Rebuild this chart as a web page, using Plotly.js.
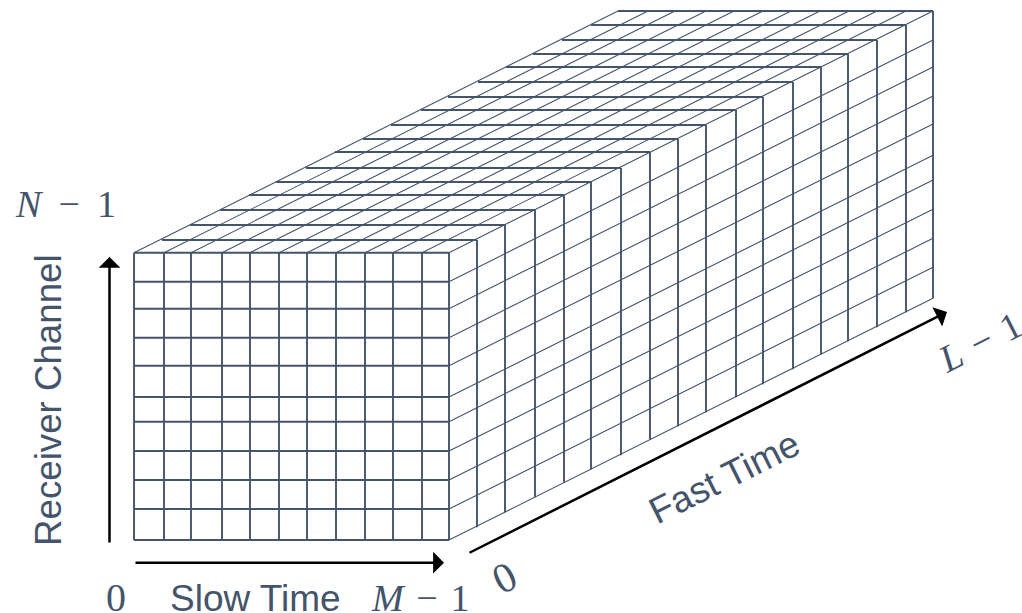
<!DOCTYPE html>
<html>
<head>
<meta charset="utf-8">
<script src="https://cdn.plot.ly/plotly-3.0.1.min.js"></script>
<style>html,body{margin:0;padding:0;background:#fff}#chart{width:1022px;height:613px}</style>
</head>
<body>
<div id="chart"></div>
<script>
// Front face grid (slow time columns, receiver-channel rows)
var slowTimeX = [134,164,191,222,250,279,307,336,365,393,422,449];
var channelY = [252.7,281.7,308.7,337.7,365.7,397,421.7,451,480,509,540];
// Fast-time layers: top-right corner of every layer along the depth direction
var fastTimeX = [449,477,505,535,564,591,621,650,678,706,736,763,793,821,848,877,906,933];
var fastTimeY = [252.7,240,225,210,195,182,168,152,139,125,110,97,82,67,54,40,25,11];
// Arrows: [tailX, tailY, tipX, tipY]
var arrowChannel = [109.5,544,109.5,257];
var arrowSlow = [134,562.7,444,562.7];
var arrowFast = [468,553.5,947,312];
// Labels
var labelText = ['<i>N</i> \u2009\u2212\u2009 1','Receiver Channel','0','Slow Time','<i>M</i> \u200A\u2212\u200A 1','0','Fast Time','<i>L</i> \u200A\u2212\u200A 1'];

var ink = '#44546A';
var serif = '"Liberation Serif", serif';
var sans = '"Liberation Sans", Arial, sans-serif';
var backX = fastTimeX[fastTimeX.length-1]-fastTimeX[0];
var backY = fastTimeY[fastTimeY.length-1]-fastTimeY[0];

var thickX=[],thickY=[],thinX=[],thinY=[];
function seg(ax,ay,x0,y0,x1,y1){ax.push(x0,x1,null);ay.push(y0,y1,null);}
var bottom = channelY[channelY.length-1], top0 = channelY[0];
var left = slowTimeX[0], right = slowTimeX[slowTimeX.length-1];
slowTimeX.forEach(function(x){seg(thickX,thickY,x,top0,x,bottom);});
channelY.forEach(function(y){seg(thickX,thickY,left,y,right,y);});
fastTimeX.forEach(function(x,i){
  if(i===0) return;
  var dx=x-right, dy=fastTimeY[i]-top0;
  seg(thickX,thickY,x,fastTimeY[i],x,bottom+dy);           // right face vertical
  seg(thickX,thickY,left+dx,fastTimeY[i],x,fastTimeY[i]);  // top face horizontal
});
slowTimeX.forEach(function(x){seg(thinX,thinY,x,top0,x+backX,top0+backY);});
channelY.forEach(function(y,i){if(i>0)seg(thinX,thinY,right,y,right+backX,y+backY);});

var traces=[
 {type:'scatter',mode:'lines',x:thinX,y:thinY,line:{color:ink,width:1.1},hoverinfo:'skip',connectgaps:false},
 {type:'scatter',mode:'lines',x:thickX,y:thickY,line:{color:ink,width:1.9},hoverinfo:'skip',connectgaps:false}
];

function arrow(a){return {x:a[2],y:a[3],ax:a[0],ay:a[1],xref:'x',yref:'y',axref:'x',ayref:'y',text:'',showarrow:true,
  arrowhead:1,arrowsize:1.45,arrowwidth:2.5,arrowcolor:'#000',standoff:0,startstandoff:0};}
function label(i,x,y,size,fam,ang){return {x:x,y:y,xref:'x',yref:'y',text:labelText[i],showarrow:false,textangle:ang||0,
  xanchor:'center',yanchor:'middle',font:{family:fam,size:size,color:ink}};}

var layout={
 width:1022,height:613,autosize:false,showlegend:false,
 margin:{l:0,r:0,t:0,b:0,pad:0},paper_bgcolor:'#fff',plot_bgcolor:'#fff',
 xaxis:{range:[0,1022],visible:false,fixedrange:true},
 yaxis:{range:[613,0],visible:false,fixedrange:true},
 annotations:[
  arrow(arrowChannel),arrow(arrowSlow),arrow(arrowFast),
  label(0,65.5,204,38,serif),
  label(1,48,400,36.7,sans,-90),
  label(2,116,597,40,serif),
  label(3,255,598,37,sans),
  label(4,420,598,38,serif),
  label(5,504,578,42,serif,-27),
  label(6,724,477,37,sans,-26.5),
  label(7,980,342,38,serif,-27)
 ]
};
Plotly.newPlot('chart',traces,layout,{staticPlot:true,displayModeBar:false});
</script>
</body>
</html>
